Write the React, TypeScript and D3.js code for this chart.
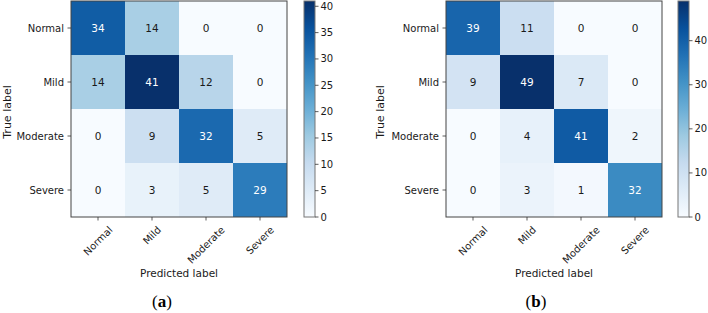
import React from "react";
import * as d3 from "d3";

const classes = ["Normal", "Mild", "Moderate", "Severe"];
const matrixA = [
  [34, 14, 0, 0],
  [14, 41, 12, 0],
  [0, 9, 32, 5],
  [0, 3, 5, 29],
];
const matrixB = [
  [39, 11, 0, 0],
  [9, 49, 7, 0],
  [0, 4, 41, 2],
  [0, 3, 1, 32],
];
const ticksA = [0, 5, 10, 15, 20, 25, 30, 35, 40];
const ticksB = [0, 10, 20, 30, 40];
const captions = ["a", "b"];
const BLUES = ["#f7fbff", "#deebf7", "#c6dbef", "#9ecae1", "#6baed6", "#4292c6", "#2171b5", "#08519c", "#08306b"];

const FONT = "'DejaVu Sans', sans-serif";
const W = 708;
const H = 313;
const TOP = 1;
const SIZE = 216;
const CBW = 11;

let canvasCtx: CanvasRenderingContext2D | null = null;
function measure(text: string, size: number) {
  if (typeof document === "undefined") return text.length * size * 0.6;
  if (!canvasCtx) canvasCtx = document.createElement("canvas").getContext("2d");
  if (!canvasCtx) return text.length * size * 0.6;
  canvasCtx.font = `${size}px 'DejaVu Sans'`;
  return canvasCtx.measureText(text).width;
}

const cmap = d3.piecewise(d3.interpolateRgb, BLUES);

function Panel({ idx, matrix, ticks, left, cbLeft, captionX, ylabelX }: any) {
  const max = d3.max(matrix.flat() as number[]) as number;
  const x = d3.scaleBand<string>().domain(classes).range([left, left + SIZE]);
  const y = d3.scaleBand<string>().domain(classes).range([TOP, TOP + SIZE]);
  const color = d3.scaleSequential(cmap).domain([0, max]);
  const cy = d3.scaleLinear().domain([0, max]).range([TOP + SIZE, TOP]);
  const gid = `grad${idx}`;
  const bottom = TOP + SIZE;
  return (
    <g>
      <defs>
        <linearGradient id={gid} x1="0" y1="1" x2="0" y2="0">
          {BLUES.map((c, i) => (
            <stop key={i} offset={i / (BLUES.length - 1)} stopColor={c} />
          ))}
        </linearGradient>
      </defs>
      {matrix.map((row: number[], i: number) =>
        row.map((v: number, j: number) => (
          <rect key={`${i}-${j}`} x={x(classes[j])} y={y(classes[i])} width={x.bandwidth()} height={y.bandwidth()} fill={color(v)} />
        ))
      )}
      {matrix.map((row: number[], i: number) =>
        row.map((v: number, j: number) => (
          <text
            key={`t${i}-${j}`}
            x={(x(classes[j]) as number) + x.bandwidth() / 2}
            y={(y(classes[i]) as number) + y.bandwidth() / 2}
            textAnchor="middle"
            dominantBaseline="central"
            fontSize={10.5}
            fill={v > max / 2 ? "#ffffff" : "#1a1a1a"}
          >
            {v}
          </text>
        ))
      )}
      <rect x={left} y={TOP} width={SIZE} height={SIZE} fill="none" stroke="#444" strokeWidth={1} />
      {classes.map((c) => {
        const yc = (y(c) as number) + y.bandwidth() / 2;
        return (
          <g key={`yl${c}`}>
            <line x1={left - 3.5} x2={left} y1={yc} y2={yc} stroke="#333" strokeWidth={0.8} />
            <text x={left - 7} y={yc} textAnchor="end" dominantBaseline="central" fontSize={10} fill="#1a1a1a">
              {c}
            </text>
          </g>
        );
      })}
      {classes.map((c) => {
        const xc = (x(c) as number) + x.bandwidth() / 2;
        const w = measure(c, 10);
        const h = 11.6;
        const ctr = bottom + 7 + (w + h) * Math.SQRT1_2 / 2;
        return (
          <g key={`xl${c}`}>
            <line x1={xc} x2={xc} y1={bottom} y2={bottom + 3.5} stroke="#333" strokeWidth={0.8} />
            <text
              transform={`translate(${xc},${ctr}) rotate(-45)`}
              textAnchor="middle"
              dominantBaseline="central"
              fontSize={10}
              fill="#1a1a1a"
            >
              {c}
            </text>
          </g>
        );
      })}
      <text x={left + SIZE / 2} y={bottom + 60} textAnchor="middle" fontSize={10.5} fill="#1a1a1a">
        Predicted label
      </text>
      <text transform={`translate(${ylabelX},${TOP + SIZE / 2 + 3}) rotate(-90)`} textAnchor="middle" fontSize={11} fill="#1a1a1a">
        True label
      </text>
      <rect x={cbLeft} y={TOP} width={CBW} height={SIZE} fill={`url(#${gid})`} stroke="#777" strokeWidth={1} />
      {ticks.map((t: number) => (
        <g key={`cb${t}`}>
          <line x1={cbLeft + CBW} x2={cbLeft + CBW + 3.5} y1={cy(t)} y2={cy(t)} stroke="#333" strokeWidth={0.8} />
          <text x={cbLeft + CBW + 5.5} y={cy(t)} dominantBaseline="central" fontSize={10} fill="#1a1a1a">
            {t}
          </text>
        </g>
      ))}
      <text x={captionX} y={307} textAnchor="middle" fontSize={17} fontFamily="'Liberation Serif', serif" fill="#000">
        <tspan>(</tspan>
        <tspan fontWeight="bold">{captions[idx]}</tspan>
        <tspan>)</tspan>
      </text>
    </g>
  );
}

export default function App() {
  const panels = [
    { matrix: matrixA, ticks: ticksA, left: 71, cbLeft: 304, captionX: 162, ylabelX: 10.5 },
    { matrix: matrixB, ticks: ticksB, left: 446, cbLeft: 678, captionX: 536, ylabelX: 384 },
  ];
  return (
    <div style={{ position: "absolute", left: 0, top: 0 }}>
      <svg width={W} height={H} style={{ display: "block", fontFamily: FONT }}>
        <rect width={W} height={H} fill="#fff" />
        {panels.map((p, i) => (
          <Panel key={i} idx={i} {...p} />
        ))}
      </svg>
    </div>
  );
}
